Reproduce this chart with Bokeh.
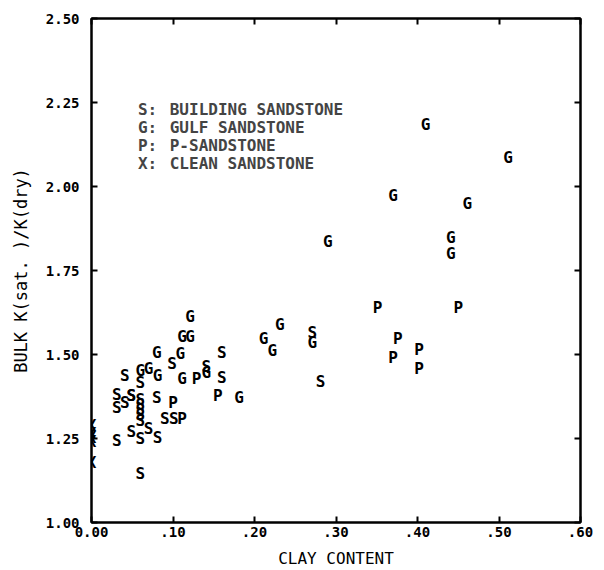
from bokeh.plotting import figure
from bokeh.models import Range1d, FixedTicker, LinearAxis, Label, LabelSet, ColumnDataSource
from bokeh.core.properties import value
from bokeh.embed import file_html
from bokeh.resources import INLINE

# Building sandstone (S)
building_clay = [0.031, 0.031, 0.041, 0.049, 0.041, 0.060, 0.060, 0.060, 0.060, 0.060,
                 0.060, 0.080, 0.031, 0.049, 0.060, 0.070, 0.081, 0.060, 0.099, 0.090,
                 0.101, 0.141, 0.160, 0.160, 0.271, 0.281, 0.049]
building_k = [1.381, 1.343, 1.358, 1.378, 1.437, 1.418, 1.365, 1.350, 1.335, 1.320,
              1.305, 1.373, 1.244, 1.270, 1.250, 1.279, 1.254, 1.146, 1.472, 1.309,
              1.309, 1.465, 1.507, 1.432, 1.565, 1.421, 1.378]

# Gulf sandstone (G)
gulf_clay = [0.060, 0.070, 0.081, 0.080, 0.109, 0.111, 0.111, 0.121, 0.121, 0.141,
             0.181, 0.211, 0.222, 0.231, 0.271, 0.290, 0.370, 0.410, 0.441, 0.441,
             0.461, 0.511]
gulf_k = [1.452, 1.457, 1.438, 1.507, 1.502, 1.428, 1.554, 1.554, 1.613, 1.447,
          1.371, 1.547, 1.512, 1.589, 1.537, 1.836, 1.973, 2.185, 1.849, 1.801,
          1.950, 2.087]

# P-sandstone (P)
p_clay = [0.100, 0.111, 0.129, 0.155, 0.351, 0.376, 0.370, 0.402, 0.402, 0.450]
p_k = [1.358, 1.309, 1.430, 1.378, 1.639, 1.548, 1.491, 1.515, 1.458, 1.641]

# Clean sandstone (X)
clean_clay = [0.0, 0.0, 0.0, 0.0, 0.0]
clean_k = [1.289, 1.265, 1.252, 1.240, 1.179]

x_ticks = [0.0, 0.1, 0.2, 0.3, 0.4, 0.5, 0.6]
x_tick_labels = ["0.00", ".10", ".20", ".30", ".40", ".50", ".60"]
y_ticks = [1.0, 1.25, 1.5, 1.75, 2.0, 2.25, 2.5]
y_tick_labels = ["1.00", "1.25", "1.50", "1.75", "2.00", "2.25", "2.50"]

legend_letters = ["S:", "G:", "P:", "X:"]
legend_names = ["BUILDING SANDSTONE", "GULF SANDSTONE", "P-SANDSTONE", "CLEAN SANDSTONE"]

FONT = "DejaVu Sans Mono"

p = figure(width=604, height=570, output_backend="svg", toolbar_location=None,
           x_range=Range1d(0.0, 0.6), y_range=Range1d(1.0, 2.5),
           min_border_left=91, min_border_right=24, min_border_top=18,
           min_border_bottom=48, background_fill_color="white",
           border_fill_color="white")
p.grid.visible = False
p.outline_line_color = "black"
p.outline_line_width = 2

for ax in (p.xaxis[0], p.yaxis[0]):
    ax.axis_line_width = 2
    ax.axis_line_color = "black"
    ax.major_tick_in = 6
    ax.major_tick_out = 0
    ax.major_tick_line_width = 2
    ax.minor_tick_line_color = None
    ax.major_label_text_font = FONT
    ax.major_label_text_font_style = "bold"
    ax.major_label_text_font_size = "14px"
    ax.major_label_text_color = "black"
    ax.axis_label_text_font = FONT
    ax.axis_label_text_font_style = "normal"
    ax.axis_label_text_color = "black"

p.xaxis.ticker = FixedTicker(ticks=x_ticks)
p.xaxis.major_label_overrides = dict(zip(x_ticks, x_tick_labels))
p.xaxis.axis_label = "CLAY CONTENT"
p.xaxis.axis_label_text_font_size = "16px"
p.xaxis.major_label_standoff = 4
p.xaxis.axis_label_standoff = 9

p.yaxis.ticker = FixedTicker(ticks=y_ticks)
p.yaxis.major_label_overrides = dict(zip(y_ticks, y_tick_labels))
p.yaxis.axis_label = "BULK K(sat. )/K(dry)"
p.yaxis.axis_label_text_font_size = "17px"
p.yaxis.major_label_standoff = 12
p.yaxis.axis_label_standoff = 12

# inward ticks on the top and right edges of the box (no labels)
for side, ticks in (("above", x_ticks), ("right", y_ticks)):
    ax = LinearAxis(ticker=FixedTicker(ticks=ticks), major_tick_in=6, major_tick_out=0,
                    major_tick_line_width=2, minor_tick_line_color=None,
                    axis_line_width=2, major_label_text_color=None,
                    major_label_text_font_size="1px", major_label_standoff=0)
    p.add_layout(ax, side)

mark_style = dict(text_font=value(FONT), text_font_style="bold", text_font_size="16px",
                  text_color="black", text_align="center", text_baseline="middle")

# sample letters inside the box
for xs, ys, letter in ((building_clay, building_k, "S"), (gulf_clay, gulf_k, "G"),
                       (p_clay, p_k, "P")):
    src = ColumnDataSource(dict(x=xs, y=ys, t=[letter] * len(xs)))
    p.add_layout(LabelSet(x="x", y="y", text="t", source=src, **mark_style))

# clean samples sit on the zero-clay axis
for cx, ck in zip(clean_clay, clean_k):
    p.add_layout(Label(x=cx, y=ck, text="X", text_font=FONT, text_font_style="bold",
                       text_font_size="16px", text_color="black",
                       text_align="center", text_baseline="middle"))

# key in the upper-left corner
key_y = [2.229, 2.176, 2.122, 2.068]
for letter, name, ky in zip(legend_letters, legend_names, key_y):
    p.add_layout(Label(x=0.057, y=ky, text=letter, text_font=FONT,
                       text_font_style="bold", text_font_size="16px",
                       text_baseline="middle", text_align="left"))
    p.add_layout(Label(x=0.096, y=ky, text=name, text_font=FONT,
                       text_font_style="bold", text_font_size="16px",
                       text_baseline="middle", text_align="left"))

open("out.html", "w").write(file_html(p, INLINE))
